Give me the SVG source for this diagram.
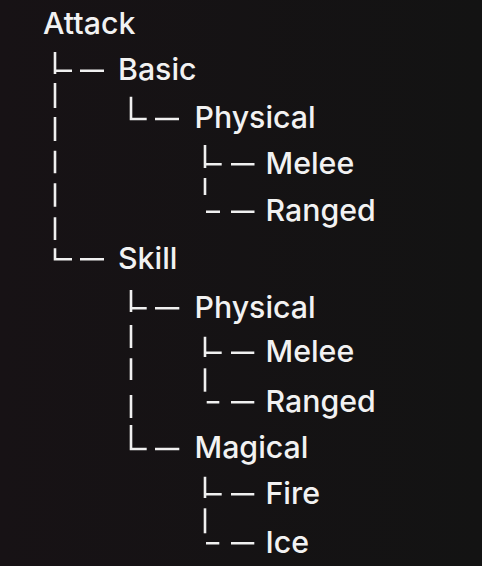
<svg xmlns="http://www.w3.org/2000/svg" width="482" height="566" viewBox="0 0 482 566">
  <defs>
    <linearGradient id="bg" x1="0" y1="0" x2="1" y2="0">
      <stop offset="0" stop-color="#171215"/>
      <stop offset="1" stop-color="#131313"/>
    </linearGradient>
  </defs>
  <style>
    .t { font-family: Inter, "Noto Sans", "Liberation Sans", sans-serif; font-size: 30.3px; font-weight: 500; fill: #f2f2f2; }
    .c { stroke: #f0f0f0; stroke-width: 2.6; fill: none; stroke-linecap: butt; }
  </style>
  <rect width="482" height="566" fill="url(#bg)"/>

  <g id="connectors" class="c">
    <!-- level 0 column: Attack -> Basic, Skill -->
    <path d="M55 52V74M55 70.7H72M80 70.7H104"/>
    <path d="M55 83V108M55 117V141M55 150.7V173.3M55 183.3V206.7M55 217.3V240"/>
    <path d="M55 248.3V259.3H72M80 259.3H104"/>
    <!-- Basic -> Physical -->
    <path d="M131 96.7V119H146.7M155 119H179"/>
    <!-- Physical (Basic) -> Melee, Ranged -->
    <path d="M205 145V168M205 164.3H221.7M231 164.3H254.5"/>
    <path d="M205 178V195"/>
    <path d="M206 211.7H220M231 211.7H254.5"/>
    <!-- Skill -> Physical, Magical -->
    <path d="M131 290V312M131 308.3H146.7M155 308.3H179.3"/>
    <path d="M131 325V348M131 358.3V380M131 395V418"/>
    <path d="M131 425V449H146.7M155 449H179.3"/>
    <!-- Physical (Skill) -> Melee, Ranged -->
    <path d="M205 336.7V357M205 352.7H221.7M231 352.7H254.3"/>
    <path d="M205 368.3V391.7"/>
    <path d="M206.7 402.3H219.3M231 402.3H254.3"/>
    <!-- Magical -> Fire, Ice -->
    <path d="M205 476.7V498M205 494.3H221.7M231 494.3H254.3"/>
    <path d="M205 508.3V533.3"/>
    <path d="M206 543.3H219.3M231 543.3H254.3"/>
  </g>

  <g id="attack"><text class="t" x="43" y="33.8">Attack</text></g>
  <g id="basic"><text class="t" x="118" y="80">Basic</text></g>
  <g id="basic-physical"><text class="t" x="194.5" y="128.3">Physical</text></g>
  <g id="basic-physical-melee"><text class="t" x="265.5" y="173.6">Melee</text></g>
  <g id="basic-physical-ranged"><text class="t" x="265.5" y="221">Ranged</text></g>
  <g id="skill"><text class="t" x="118" y="268.6">Skill</text></g>
  <g id="skill-physical"><text class="t" x="194.5" y="317.6">Physical</text></g>
  <g id="skill-physical-melee"><text class="t" x="265.5" y="362">Melee</text></g>
  <g id="skill-physical-ranged"><text class="t" x="265.5" y="411.6">Ranged</text></g>
  <g id="skill-magical"><text class="t" x="194.5" y="458.3">Magical</text></g>
  <g id="skill-magical-fire"><text class="t" x="265.5" y="503.6">Fire</text></g>
  <g id="skill-magical-ice"><text class="t" x="265.5" y="552.6">Ice</text></g>
</svg>
